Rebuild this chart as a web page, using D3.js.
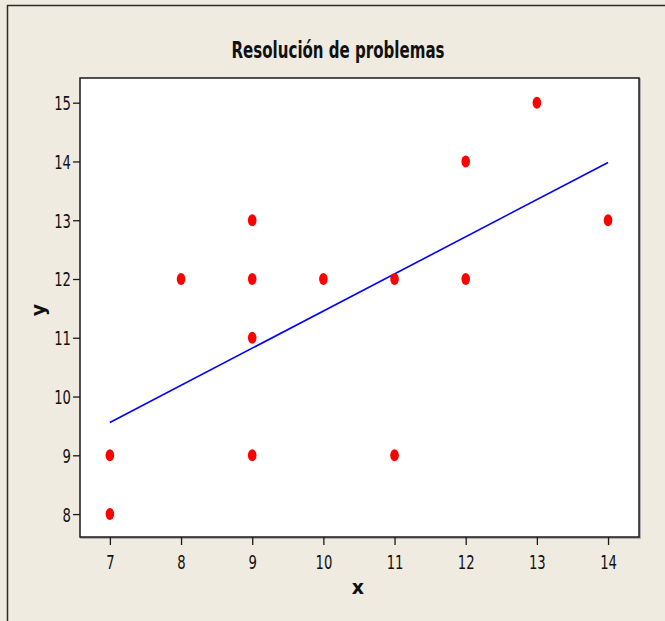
<!DOCTYPE html>
<html>
<head>
<meta charset="utf-8">
<script src="https://cdn.jsdelivr.net/npm/d3@7"></script>
<style>
  html, body { margin: 0; padding: 0; background: #EFEBE1; }
  svg { display: block; }
</style>
</head>
<body>
<svg id="chart" width="665" height="621"></svg>
<script>
// Observations: x and y
const xValues = [7, 7, 8, 9, 9, 9, 9, 10, 11, 11, 12, 12, 13, 14];
const yValues = [9, 8, 12, 13, 12, 11, 9, 12, 12, 9, 14, 12, 15, 13];
const xTicks = [7, 8, 9, 10, 11, 12, 13, 14];
const yTicks = [8, 9, 10, 11, 12, 13, 14, 15];
const titleText = "Resolución de problemas";
const xLabel = "x";
const yLabel = "y";

const W = 665, H = 621;
const plot = { left: 80, right: 639, top: 78, bottom: 537 };

const svg = d3.select("#chart");

// figure background and outer frame
svg.append("rect").attr("x", 0).attr("y", 0).attr("width", W).attr("height", H).attr("fill", "#EFEBE1");
svg.append("rect").attr("x", 7.5).attr("y", 5.5).attr("width", W + 10).attr("height", H + 10)
  .attr("fill", "none").attr("stroke", "#2b2b2b").attr("stroke-width", 1.5);

const x = d3.scaleLinear().domain([6.58, 14.435]).range([plot.left, plot.right]);
const y = d3.scaleLinear().domain([7.61, 15.42]).range([plot.bottom, plot.top]);

// plot area
svg.append("rect").attr("x", plot.left + 1).attr("y", plot.top + 1)
  .attr("width", plot.right - plot.left).attr("height", plot.bottom - plot.top)
  .attr("fill", "none").attr("stroke", "#9a9a9a").attr("stroke-width", 1.5);
svg.append("rect").attr("x", plot.left).attr("y", plot.top)
  .attr("width", plot.right - plot.left).attr("height", plot.bottom - plot.top)
  .attr("fill", "#ffffff").attr("stroke", "#1a1a1a").attr("stroke-width", 1.5);

const tickFont = "'DejaVu Sans', sans-serif";
const squeeze = 0.66;

// x axis
const gx = svg.append("g").attr("transform", `translate(0,${plot.bottom})`)
  .call(d3.axisBottom(x).tickValues(xTicks).tickSize(8).tickPadding(4).tickFormat(d3.format("d")));
gx.select(".domain").remove();
gx.selectAll(".tick line").attr("stroke", "#1a1a1a").attr("stroke-width", 1.3);
gx.selectAll(".tick text")
  .attr("y", 0).attr("dy", null)
  .attr("transform", `translate(0,32) scale(${squeeze},1)`)
  .attr("font-family", tickFont).attr("font-size", 20).attr("fill", "#111");

// y axis
const gy = svg.append("g").attr("transform", `translate(${plot.left},0)`)
  .call(d3.axisLeft(y).tickValues(yTicks).tickSize(7).tickPadding(4).tickFormat(d3.format("d")));
gy.select(".domain").remove();
gy.selectAll(".tick line").attr("stroke", "#1a1a1a").attr("stroke-width", 1.3);
gy.selectAll(".tick text")
  .attr("x", 0).attr("dy", null)
  .attr("transform", `translate(-9,7) scale(${squeeze},1)`)
  .attr("font-family", tickFont).attr("font-size", 20).attr("fill", "#111");

// least-squares fit line over the x range
const pts = xValues.map((v, i) => ({ x: v, y: yValues[i] }));
const mx = d3.mean(pts, d => d.x), my = d3.mean(pts, d => d.y);
const sxy = d3.sum(pts, d => (d.x - mx) * (d.y - my));
const sxx = d3.sum(pts, d => (d.x - mx) ** 2);
const slope = sxy / sxx, intercept = my - slope * mx;
const xExt = d3.extent(xValues);
const fit = xExt.map(v => ({ x: v, y: intercept + slope * v }));
svg.append("path")
  .attr("d", d3.line().x(d => x(d.x)).y(d => y(d.y))(fit))
  .attr("fill", "none").attr("stroke", "#0000FF").attr("stroke-width", 1.6);

// points
svg.append("g").selectAll("ellipse").data(pts).join("ellipse")
  .attr("cx", d => x(d.x)).attr("cy", d => y(d.y))
  .attr("rx", 4.3).attr("ry", 6)
  .attr("fill", "#FF0000");

// title
svg.append("text").attr("x", 338).attr("y", 58)
  .attr("text-anchor", "middle")
  .attr("font-family", tickFont).attr("font-weight", "bold").attr("font-size", 23)
  .attr("textLength", 213).attr("lengthAdjust", "spacingAndGlyphs")
  .attr("fill", "#111").text(titleText);

// axis titles
svg.append("text").attr("x", 358).attr("y", 594)
  .attr("text-anchor", "middle")
  .attr("font-family", tickFont).attr("font-weight", "bold").attr("font-size", 19)
  .attr("fill", "#111").text(xLabel);
svg.append("text")
  .attr("transform", "translate(45,310) rotate(-90)")
  .attr("text-anchor", "middle")
  .attr("font-family", tickFont).attr("font-weight", "bold").attr("font-size", 19)
  .attr("fill", "#111").text(yLabel);
</script>
</body>
</html>
